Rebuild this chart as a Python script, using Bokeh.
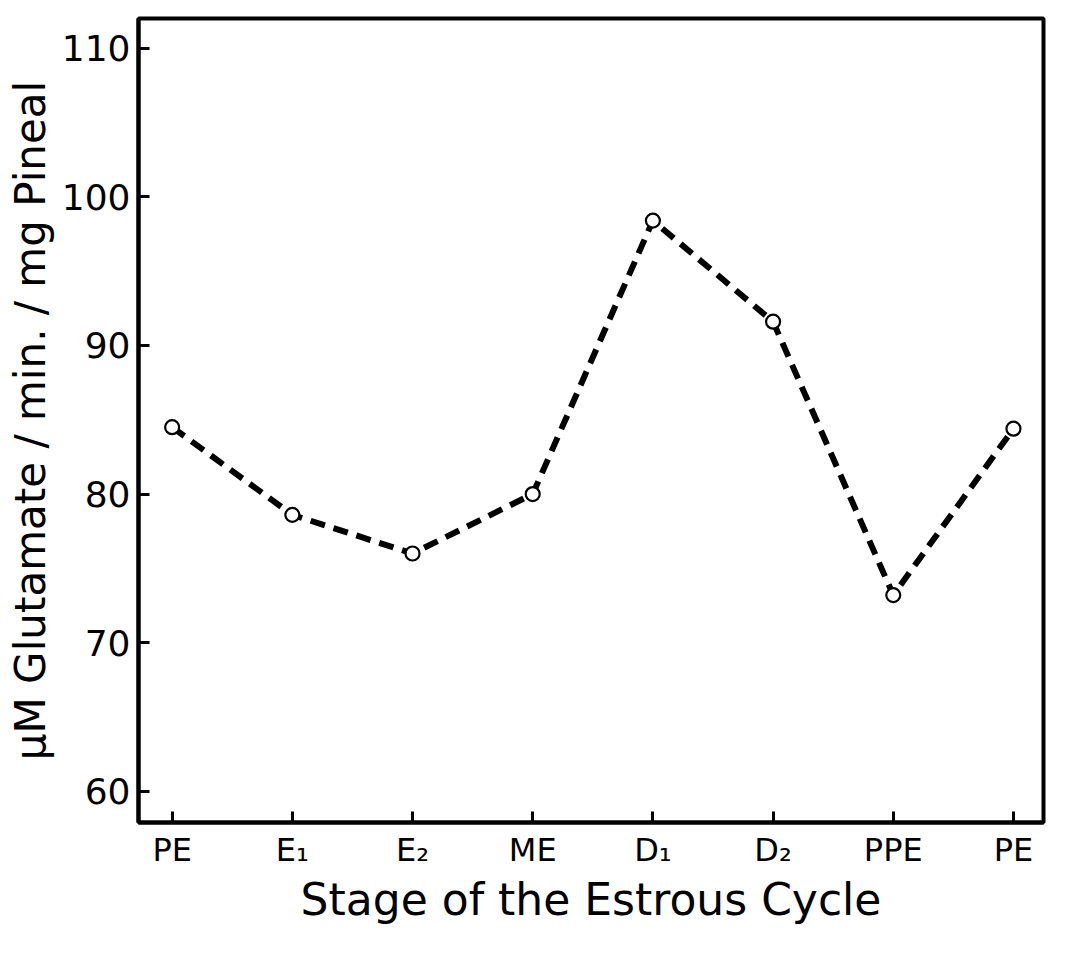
from bokeh.plotting import figure
from bokeh.models import FixedTicker, Range1d
from bokeh.embed import file_html
from bokeh.resources import INLINE

# Data
stages = ["PE", "E₁", "E₂", "ME", "D₁", "D₂", "PPE", "PE"]
glutamate = [84.5, 78.6, 76.0, 80.0, 98.4, 91.6, 73.2, 84.4]
y_ticks = [60, 70, 80, 90, 100, 110]

x_pos = list(range(len(stages)))
FONT = "DejaVu Sans"

p = figure(width=1049, height=940, output_backend="svg", toolbar_location=None,
           x_range=Range1d(-0.28, 7.25), y_range=Range1d(57.9, 112.0),
           min_border_left=138, min_border_right=6, min_border_top=18,
           min_border_bottom=118)
p.grid.visible = False
p.outline_line_color = "black"
p.outline_line_width = 4

p.line(x_pos, glutamate, line_color="black", line_width=6, line_dash="15 9")
p.scatter(x_pos, glutamate, size=14, fill_color="white", line_color="black",
          line_width=2.2)

for ax in (p.xaxis[0], p.yaxis[0]):
    ax.axis_line_color = "black"
    ax.axis_line_width = 4
    ax.major_tick_in = 11
    ax.major_tick_out = 0
    ax.major_tick_line_width = 3
    ax.major_tick_line_color = "black"
    ax.minor_tick_line_color = None
    ax.major_label_text_font = FONT
    ax.major_label_text_color = "black"
    ax.axis_label_text_font = FONT
    ax.axis_label_text_font_style = "normal"
    ax.axis_label_text_color = "black"

p.xaxis.ticker = FixedTicker(ticks=x_pos)
p.xaxis.major_label_overrides = {i: s for i, s in enumerate(stages)}
p.xaxis.major_label_text_font_size = "32px"
p.xaxis.major_label_standoff = 8
p.xaxis.axis_label = "Stage of the Estrous Cycle"
p.xaxis.axis_label_text_font_size = "44px"
p.xaxis.axis_label_standoff = 2

p.yaxis.ticker = FixedTicker(ticks=y_ticks)
p.yaxis.major_label_text_font_size = "36px"
p.yaxis.major_label_standoff = 8
p.yaxis.axis_label = "μM Glutamate / min. / mg Pineal"
p.yaxis.axis_label_text_font_size = "42px"
p.yaxis.axis_label_standoff = 4

open("out.html", "w").write(file_html(p, INLINE))
